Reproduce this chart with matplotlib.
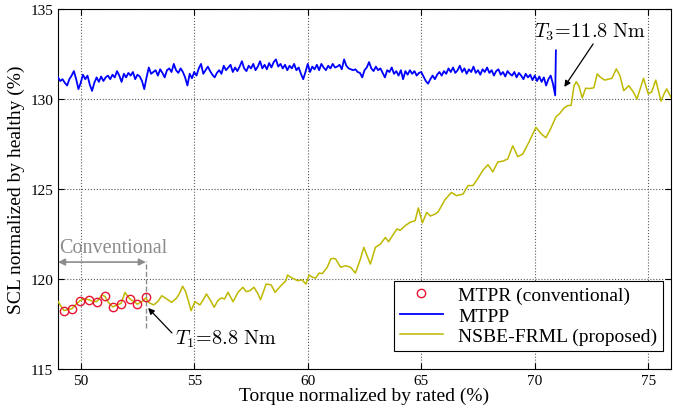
import numpy as np
import matplotlib.pyplot as plt

plt.rcParams["font.family"] = "Liberation Serif"
plt.rcParams["mathtext.fontset"] = "cm"

# MTPP (blue), sampled every 0.1 % from 49.0 to 70.9, then the final spike
blue_start = 49.0
blue_step = 0.1
blue_vals = [
    131.2, 131.0, 131.1, 130.9, 130.75, 131.1, 131.3, 131.55, 131.1, 130.55,
    130.9, 131.35, 131.1, 131.3, 130.8, 130.45, 130.9, 131.2, 130.95, 131.25,
    131.0, 131.2, 131.3, 131.1, 131.35, 131.2, 131.55, 131.3, 130.95, 131.4,
    131.2, 131.45, 131.3, 131.5, 131.1, 131.35, 131.25, 131.0, 130.55, 131.2,
    131.75, 131.4, 131.5, 131.6, 131.3, 131.65, 131.45, 131.2, 131.6, 131.7,
    131.5, 131.95, 131.6, 131.45, 131.7, 131.5, 131.2, 130.75, 131.4, 131.15,
    131.5, 131.3, 131.7, 131.95, 131.4, 131.6, 131.8, 131.55, 131.35, 131.2,
    131.45, 131.6, 131.4, 131.85, 131.6, 131.75, 131.9, 131.5, 131.75, 131.55,
    131.8, 132.1, 131.7, 131.55, 131.85, 131.7, 131.95, 131.6, 131.8, 132.1,
    131.7, 131.9, 131.65, 132.0, 131.75, 132.05, 132.2, 131.8, 131.95, 131.7,
    131.9, 131.6, 131.85, 131.7, 131.95, 131.6, 131.75, 131.4, 131.1, 131.5,
    131.95, 131.5, 131.8, 131.65, 131.9, 131.6, 131.95, 131.75, 131.6, 131.85,
    131.7, 131.95, 131.75, 131.8, 131.9, 131.65, 132.2, 131.85, 131.7, 131.65,
    131.6, 131.65, 131.5, 131.45, 131.2, 131.6, 131.75, 132.05, 131.7, 131.55,
    131.8, 131.6, 131.7, 131.45, 131.2, 131.6, 131.5, 131.75, 131.4, 131.55,
    131.3, 131.6, 131.1, 131.55, 131.35, 131.6, 131.4, 131.55, 131.3, 131.45,
    131.5, 131.25, 131.0, 130.85, 131.1, 131.3, 131.1, 131.35, 131.5, 131.3,
    131.55, 131.4, 131.7, 131.5, 131.75, 131.45, 131.6, 131.85, 131.5, 131.7,
    131.4, 131.65, 131.5, 131.8, 131.45, 131.6, 131.35, 131.65, 131.5, 131.75,
    131.45, 131.6, 131.3, 131.55, 131.65, 131.35, 131.5, 131.25, 131.55, 131.4,
    131.3, 131.5, 131.2, 131.45, 131.3, 131.1, 131.4, 131.2, 131.35, 131.05,
    131.3, 131.0, 131.25, 130.95, 131.2, 130.75, 131.1, 131.3, 130.85, 130.2,
]
spike_x = 70.93
spike_y = 132.7

# NSBE-FRML (olive)
nsbe_x = [
    49.0, 49.1, 49.26, 49.45, 49.61, 49.8, 49.97, 50.15, 50.35, 50.55, 50.71,
    50.93, 51.06, 51.22, 51.41, 51.6, 51.78, 51.95, 52.16, 52.35, 52.49, 52.7,
    52.87, 52.99, 53.21, 53.4, 53.57, 53.79, 54.01, 54.23, 54.35, 54.49, 54.62,
    54.74, 54.86, 55.03, 55.25, 55.4, 55.54, 55.72, 55.88, 56.04, 56.2, 56.34,
    56.49, 56.71, 56.93, 57.14, 57.29, 57.45, 57.63, 57.8, 57.92, 58.05, 58.17,
    58.39, 58.56, 58.82, 59.04, 59.11, 59.26, 59.4, 59.55, 59.75, 59.92, 60.06,
    60.2, 60.35, 60.5, 60.64, 60.86, 61.01, 61.12, 61.23, 61.45, 61.67, 61.89,
    62.1, 62.32, 62.47, 62.61, 62.76, 62.98, 63.2, 63.42, 63.56, 63.78, 63.93,
    64.07, 64.29, 64.51, 64.73, 64.87, 65.05, 65.24, 65.4, 65.6, 65.75, 66.04,
    66.33, 66.55, 66.84, 67.06, 67.28, 67.5, 67.72, 67.94, 68.15, 68.37, 68.6,
    68.81, 69.03, 69.25, 69.47, 69.76, 70.05, 70.27, 70.49, 70.7, 70.93, 71.1,
    71.29, 71.44, 71.6, 71.73, 71.83, 71.95, 72.09, 72.24, 72.4, 72.6, 72.75,
    72.9, 73.08, 73.25, 73.4, 73.59, 73.75, 73.92, 74.14, 74.35, 74.5, 74.65,
    74.79, 75.0, 75.15, 75.33, 75.56, 75.7, 75.81, 76.0,
]
nsbe_y = [
    118.75, 118.55, 118.25, 118.3, 118.35, 118.6, 118.8, 118.9, 118.85, 118.75,
    118.75, 119.1, 119.05, 118.7, 118.45, 118.55, 118.65, 119.25, 118.9, 118.75,
    118.6, 118.75, 118.95, 118.7, 118.56, 118.75, 119.07, 118.89, 118.7, 118.95,
    119.2, 119.6, 119.3, 118.8, 118.24, 118.74, 118.56, 118.85, 119.17, 118.8,
    118.43, 118.8, 118.95, 118.89, 119.26, 118.74, 119.26, 119.54, 119.3,
    119.35, 119.54, 119.2, 118.85, 119.3, 119.72, 119.67, 119.26, 119.63,
    119.91, 120.22, 120.09, 120.0, 119.91, 119.95, 119.72, 120.22, 120.1,
    120.05, 120.33, 120.3, 120.65, 121.11, 121.15, 121.11, 120.65, 120.74,
    120.65, 120.33, 121.11, 121.76, 121.3, 120.83, 121.76, 121.94, 122.31,
    122.07, 122.5, 122.78, 122.7, 122.96, 123.15, 123.24, 123.95, 123.12,
    123.7, 123.5, 123.6, 123.74, 124.4, 124.81, 124.63, 124.72, 125.19,
    125.19, 125.6, 126.05, 126.35, 125.95, 126.5, 126.55, 126.67, 127.4,
    126.8, 126.94, 127.65, 128.43, 128.08, 127.85, 128.35, 129.0, 129.2,
    129.5, 129.63, 129.65, 130.74, 130.96, 130.7, 130.06, 130.6, 130.58,
    130.62, 131.39, 131.2, 131.05, 131.1, 131.15, 131.67, 131.3, 130.46,
    130.74, 130.37, 130.0, 130.6, 131.15, 130.28, 130.4, 131.05, 129.88,
    130.3, 130.56, 130.1,
]

# MTPR (conventional) points
mtpr_x = [49.27, 49.61, 49.97, 50.35, 50.71, 51.06, 51.41, 51.78, 52.16, 52.49, 52.87]
mtpr_y = [118.24, 118.33, 118.78, 118.83, 118.72, 119.06, 118.44, 118.61, 118.89, 118.61, 119.0]

xticks = [50, 55, 60, 65, 70, 75]
yticks = [115, 120, 125, 130, 135]

blue_x = blue_start + blue_step * np.arange(len(blue_vals))
blue_x = np.append(blue_x, spike_x)
blue_y = np.append(blue_vals, spike_y)

fig = plt.figure(figsize=(6.73, 4.14), dpi=100)
ax = fig.add_axes([58 / 673, 44 / 414, 613 / 673, 360 / 414])

olive = (0.75, 0.72, 0.0)
ax.plot(mtpr_x, mtpr_y, "o", mfc="none", mec=(0.9, 0.08, 0.2), ms=6, mew=1.0,
        label="MTPR (conventional)", zorder=4)
ax.plot(blue_x, blue_y, color="blue", lw=1.3, label="MTPP", zorder=3)
ax.plot(nsbe_x, nsbe_y, color=olive, lw=1.1, label="NSBE-FRML (proposed)", zorder=3)

ax.set_xlim(49, 76)
ax.set_ylim(115, 135)
ax.set_xticks(xticks)
ax.set_yticks(yticks)
ax.grid(True, ls=":", color="0.35", lw=0.8)
ax.tick_params(direction="in", top=True, right=True, labelsize=11, length=4)
ax.set_xlabel("Torque normalized by rated (%)", fontsize=14, labelpad=0)
ax.set_ylabel("SCL normalized by healthy (%)", fontsize=14, labelpad=4)

# conventional region
gray = "0.55"
ax.annotate("", xy=(49.0, 120.94), xytext=(52.87, 120.94),
            arrowprops=dict(arrowstyle="<|-|>", color=gray, lw=1.2,
                            shrinkA=0, shrinkB=0, mutation_scale=10))
ax.text(49.05, 121.75, "Conventional", color=gray, fontsize=14.5, va="center")
ax.plot([52.87, 52.87], [117.3, 121.0], ls="--", color=gray, lw=1.0)

# torque annotations
arrow_kw = dict(arrowstyle="-|>", color="black", lw=0.9, shrinkA=0, shrinkB=0,
                mutation_scale=9)
ax.annotate("", xy=(52.97, 118.39), xytext=(54.02, 117.0), arrowprops=arrow_kw)
ax.text(54.15, 116.7, r"$T_1\!=\!8.8\ \mathrm{Nm}$", fontsize=14.5,
        va="center", ha="left")
ax.annotate("", xy=(71.3, 130.67), xytext=(72.57, 133.06), arrowprops=arrow_kw)
ax.text(72.45, 133.78, r"$T_3\!=\!11.8\ \mathrm{Nm}$", fontsize=14.5,
        va="center", ha="center")

leg = ax.legend(loc="lower right", bbox_to_anchor=(0.987, 0.05), borderaxespad=0,
                fontsize=14, fancybox=False, edgecolor="black", framealpha=1,
                handlelength=2.2, labelspacing=0.15, borderpad=0.3)
leg.get_frame().set_linewidth(0.8)

fig.savefig("out.png", dpi=100)
